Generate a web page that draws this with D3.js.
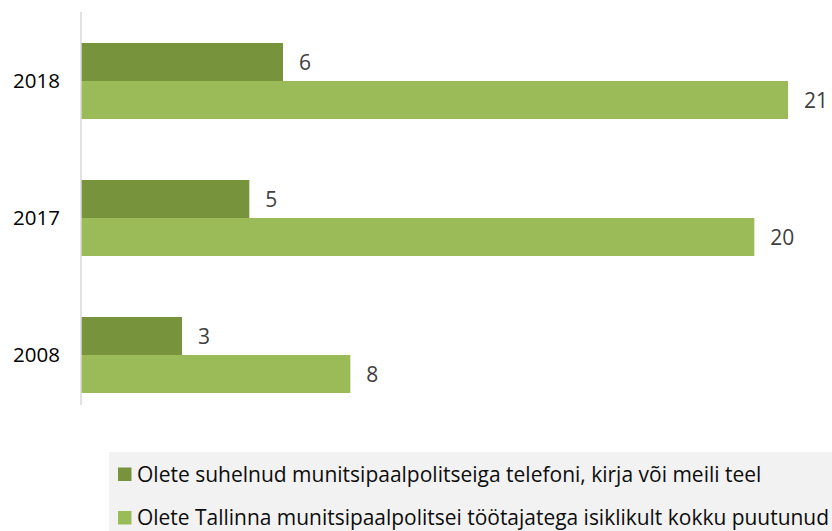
<!DOCTYPE html>
<html><head><meta charset="utf-8">
<script src="https://cdn.jsdelivr.net/npm/d3@7"></script>
<style>body{margin:0;background:#fff}svg{display:block}text{font-family:"Open Sans","Noto Sans",sans-serif}</style>
</head><body><svg id="c" width="832" height="531"></svg>
<script>
const categories = ["2018", "2017", "2008"];
const seriesNames = ["Olete suhelnud munitsipaalpolitseiga telefoni, kirja või meili teel",
                     "Olete Tallinna munitsipaalpolitsei töötajatega isiklikult kokku puutunud"];
const seriesPhone = [6, 5, 3];
const seriesPersonal = [21, 20, 8];
const colors = ["#77933C", "#9BBB59"];

const svg = d3.select("#c");
const series = [seriesPhone, seriesPersonal];

const y = d3.scaleBand().domain(categories).range([12.5, 423.5]).padding(0);
const x = d3.scaleLinear().domain([0, 21]).range([81, 788]);
const ySub = d3.scaleBand().domain([0, 1]).range([0, 76]);

const g = svg.append("g");
categories.forEach((c, i) => {
  const top = y(c) + y.bandwidth() / 2 - 38;
  series.forEach((s, k) => {
    g.append("rect")
      .attr("x", x(0)).attr("y", top + ySub(k))
      .attr("width", x(s[i]) - x(0)).attr("height", ySub.bandwidth())
      .attr("fill", colors[k]);
    g.append("text")
      .attr("x", x(s[i]) + 16).attr("y", top + ySub(k) + ySub.bandwidth() / 2)
      .attr("dy", "0.36em").attr("font-size", 21).attr("fill", "#404040")
      .text(s[i]);
  });
});

// axis
const ax = svg.append("g").attr("transform", `translate(${x(0)},0)`)
  .call(d3.axisLeft(y).tickSize(0).tickPadding(21));
ax.select(".domain").attr("stroke", "#D9D9D9").attr("stroke-width", 1.5)
  .attr("d", `M0,12V405`);
ax.selectAll("text").attr("font-size", 20.5).attr("fill", "#000")
  .style("font-family", '"Open Sans","Noto Sans",sans-serif');

// legend
svg.append("rect").attr("x", 109).attr("y", 452).attr("width", 723).attr("height", 79).attr("fill", "#F2F2F2");
seriesNames.forEach((n, k) => {
  const base = 481.5 + k * 43.5;
  svg.append("rect").attr("x", 118).attr("y", base - 14).attr("width", 13.5).attr("height", 13.5).attr("fill", colors[k]);
  const t = svg.append("text").attr("x", 137).attr("y", base)
    .attr("font-size", 21).attr("fill", "#0D0D0D")
    .text(n);
  const w = t.node().getComputedTextLength();
  if (w > 692) t.attr("textLength", 692).attr("lengthAdjust", "spacingAndGlyphs");
});
</script></body></html>
